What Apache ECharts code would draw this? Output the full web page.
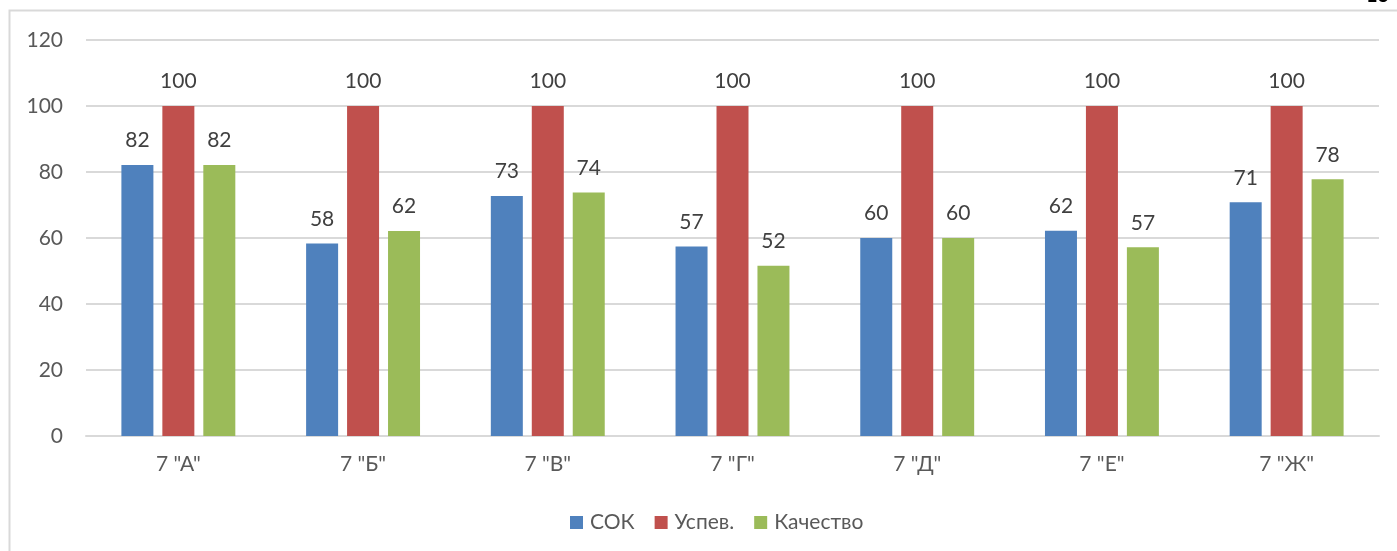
<!DOCTYPE html>
<html>
<head>
<meta charset="utf-8">
<script src="https://cdn.jsdelivr.net/npm/echarts@6/dist/echarts.min.js"></script>
<style>
html,body{margin:0;padding:0;background:#fff;}
#chart{width:1397px;height:551px;}
</style>
</head>
<body>
<div id="chart"></div>
<script>
const categories = ['7 "А"', '7 "Б"', '7 "В"', '7 "Г"', '7 "Д"', '7 "Е"', '7 "Ж"'];
const sokValues = [82.1, 58.3, 72.7, 57.4, 60.0, 62.2, 70.8];
const uspevValues = [100, 100, 100, 100, 100, 100, 100];
const kachestvoValues = [82.1, 62.1, 73.8, 51.6, 60.0, 57.2, 77.8];
const seriesNames = ['СОК', 'Успев.', 'Качество'];
const yTicks = [0, 20, 40, 60, 80, 100, 120];

const FONT = 'Lato';
const TXT = '#595959';
const labelCfg = {
  show: true,
  position: 'top',
  distance: 14,
  color: '#404040',
  fontFamily: FONT,
  fontSize: 21,
  formatter: p => Math.round(p.value)
};

const chart = echarts.init(document.getElementById('chart'), null, {renderer: 'canvas'});
chart.setOption({
  animation: false,
  backgroundColor: '#fff',
  textStyle: {fontFamily: FONT},
  graphic: [
    {type: 'rect', shape: {x: 9.5, y: 10.5, width: 1500, height: 700},
     style: {fill: 'none', stroke: '#d9d9d9', lineWidth: 2}, silent: true},
    {type: 'text', left: 1366, top: -14,
     style: {text: '13', fill: '#000', font: 'bold 20px Lato'}, silent: true}
  ],
  grid: {left: 86, right: 18, top: 40, bottom: 115},
  legend: {
    left: 565,
    top: 507,
    itemWidth: 13,
    itemHeight: 13,
    itemGap: 20,
    icon: 'rect',
    textStyle: {color: TXT, fontFamily: FONT, fontSize: 21, padding: [0, 0, 0, 2]},
    data: seriesNames
  },
  xAxis: {
    type: 'category',
    data: categories,
    axisLine: {lineStyle: {color: '#d9d9d9', width: 2}},
    axisTick: {show: false},
    axisLabel: {color: TXT, fontFamily: FONT, fontSize: 21, margin: 18}
  },
  yAxis: {
    type: 'value',
    min: yTicks[0],
    max: yTicks[yTicks.length - 1],
    interval: 20,
    axisLine: {show: false},
    axisTick: {show: false},
    axisLabel: {color: TXT, fontFamily: FONT, fontSize: 21, margin: 23},
    splitLine: {lineStyle: {color: '#d9d9d9', width: 2}}
  },
  series: [
    {name: seriesNames[0], type: 'bar', data: sokValues, barWidth: 32, barGap: '28%',
     itemStyle: {color: '#4F81BD'}, label: labelCfg},
    {name: seriesNames[1], type: 'bar', data: uspevValues, barWidth: 32, barGap: '28%',
     itemStyle: {color: '#C0504D'}, label: labelCfg},
    {name: seriesNames[2], type: 'bar', data: kachestvoValues, barWidth: 32, barGap: '28%',
     itemStyle: {color: '#9BBB59'}, label: labelCfg}
  ]
});
</script>
</body>
</html>
